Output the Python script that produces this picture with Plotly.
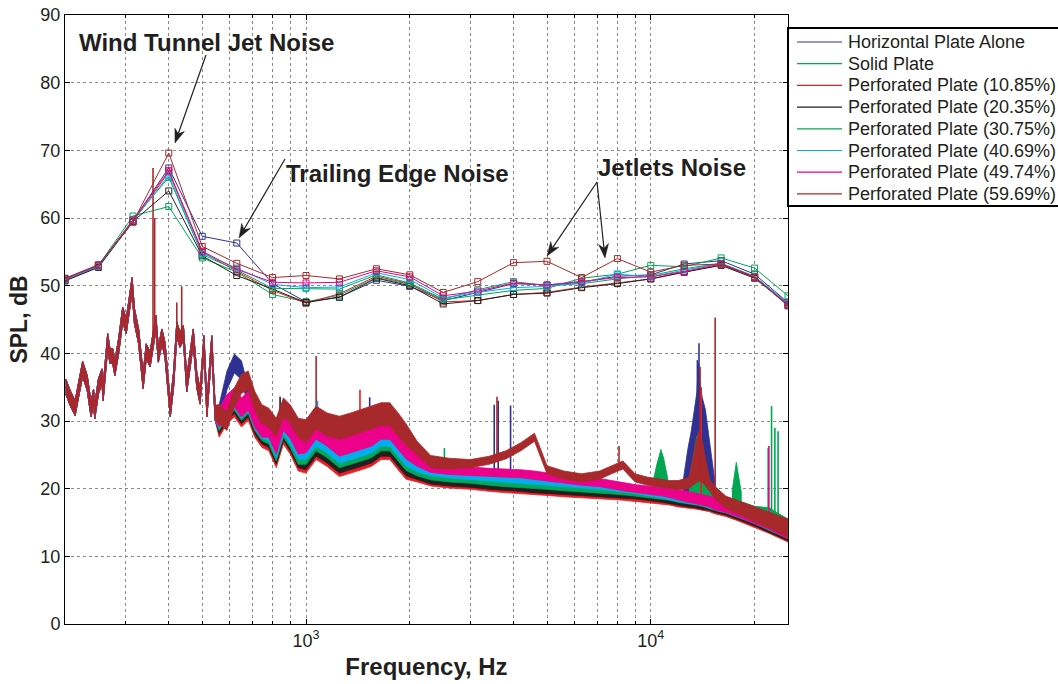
import numpy as np
import plotly.graph_objects as go

# ---------------------------------------------------------------------------
# 1/3-octave band levels (SPL, dB) for each configuration
# ---------------------------------------------------------------------------
band_freq = [200, 250, 315, 400, 500, 630, 800, 1000, 1250, 1600, 2000, 2500,
             3150, 4000, 5000, 6300, 8000, 10000, 12500, 16000, 20000, 25000]

band_horizontal = [50.8, 52.8, 59.6, 67.4, 57.3, 56.3, 50.3, 47.6, 48.3, 50.8, 49.9, 47.8,
                   49.0, 50.3, 50.1, 50.5, 51.4, 51.6, 53.2, 53.7, 51.7, 47.5]
band_solid = [51.0, 53.0, 60.3, 61.7, 54.1, 52.0, 48.7, 47.6, 48.6, 51.2, 50.2, 47.9,
              48.6, 49.3, 49.6, 51.1, 51.7, 53.0, 52.8, 54.1, 52.6, 48.5]
band_p1085 = [51.0, 53.0, 59.4, 66.8, 55.0, 52.1, 49.3, 47.4, 48.8, 51.4, 50.3, 47.6,
              47.8, 48.7, 49.0, 49.8, 50.4, 51.0, 52.0, 53.1, 51.2, 47.1]
band_p2035 = [50.7, 52.7, 59.5, 64.0, 54.4, 51.5, 49.5, 47.5, 48.3, 51.1, 50.0, 47.3,
              47.8, 48.7, 48.9, 49.7, 50.3, 51.0, 52.0, 53.0, 51.1, 47.2]
band_p3075 = [50.9, 52.9, 59.8, 66.0, 54.6, 52.3, 49.6, 49.6, 49.5, 51.6, 50.4, 48.0,
              49.4, 50.6, 50.0, 50.3, 51.0, 51.5, 52.5, 53.3, 51.4, 47.3]
band_p4069 = [50.9, 52.9, 59.6, 66.3, 54.8, 52.6, 50.2, 49.7, 49.8, 51.9, 50.9, 48.2,
              49.0, 49.7, 49.9, 50.4, 51.7, 51.3, 52.3, 53.3, 51.3, 47.4]
band_p4974 = [51.0, 53.0, 59.7, 67.0, 55.1, 52.4, 50.5, 50.4, 50.5, 52.2, 51.3, 48.5,
              49.2, 50.4, 50.1, 50.6, 51.2, 51.3, 52.1, 53.2, 51.2, 47.2]
band_p5969 = [51.1, 53.1, 59.4, 69.6, 55.8, 53.3, 51.2, 51.5, 51.0, 52.5, 51.6, 49.0,
              50.6, 53.4, 53.6, 51.2, 54.0, 52.0, 53.0, 53.2, 51.3, 47.0]

# ---------------------------------------------------------------------------
# Narrowband spectra
# Below ~550 Hz all configurations share the same jet-noise spectrum.
# ---------------------------------------------------------------------------
nb_freq_low = [201, 207, 214, 218, 225, 232, 238, 242, 244, 250, 256, 258, 266, 270,
               275, 279, 286, 294, 301, 306, 313, 318, 327, 337, 344, 353, 367, 373,
               382, 390, 399, 404, 413, 422, 431, 441, 451, 463, 471, 482, 493, 506,
               516, 533, 545]
nb_spl_low = [35.1, 33.4, 31.9, 34.1, 37.7, 35.6, 31.7, 33.6, 31.4, 35.1, 36.6, 34.1, 41.8, 39.6,
              39.6, 37.8, 41.0, 45.7, 44.0, 46.5, 50.1, 45.5, 42.5, 35.9, 40.3, 39.1, 44.5, 39.8,
              42.5, 40.5, 35.1, 31.7, 36.1, 43.5, 42.0, 43.0, 35.4, 39.6, 42.5, 36.1, 33.6, 41.5,
              31.7, 41.5, 31.2]
nb_spread_low = 1.1

nb_freq = [560, 590, 620, 650, 680, 710, 745, 780, 820, 860, 900, 950,
           1000, 1070, 1150, 1250, 1350, 1450, 1550, 1650, 1750, 1850, 1950,
           2100, 2300, 2600, 3000, 3400, 3800, 4200, 4600, 5000, 5600, 6300, 7100, 7700,
           8300, 9000, 9800, 10400, 10800, 11300, 12000,
           12800, 13400, 13800, 14300, 14800, 15300, 16500, 18000, 20000, 22000, 25000]
# half-width of the narrowband scatter band (dB)
nb_spread = [1.4, 1.4, 1.4, 1.4, 1.4, 1.4, 1.4, 1.4, 1.4, 1.4, 1.4, 1.4,
             1.7, 1.7, 1.7, 1.7, 1.7, 1.7, 1.7, 1.7, 1.7, 1.7, 1.6,
             1.0, 0.9, 0.8, 0.6, 0.6, 0.6, 0.6, 0.6, 0.6, 0.6, 0.6, 0.6, 0.6,
             0.6, 0.6, 0.6, 0.6, 0.6, 0.6, 0.7,
             0.8, 0.8, 0.8, 0.8, 0.8, 0.9, 0.9, 1.0, 1.1, 1.2, 1.3]

nb_horizontal = [31.0, 36.0, 38.5, 37.5, 33.5, 30.5, 28.5, 27.8, 25.5, 28.8, 27.5, 25.0,
                 25.0, 27.0, 26.0, 25.0, 25.5, 26.0, 26.5, 27.0, 27.0, 25.5, 24.0,
                 22.5, 21.8, 21.4, 21.0, 20.7, 20.5, 20.4, 20.2, 20.1, 19.9, 19.7, 19.6, 19.5,
                 19.4, 19.3, 19.2, 19.1, 19.0, 19.0, 18.8,
                 18.5, 18.4, 18.3, 18.1, 18.0, 17.7, 17.2, 16.6, 15.8, 15.0, 13.8]
nb_solid = [29.8, 31.8, 32.8, 31.3, 32.3, 29.8, 28.3, 27.8, 25.3, 28.8, 27.3, 24.8,
            24.8, 26.8, 25.8, 24.3, 24.8, 25.3, 25.8, 26.8, 26.8, 25.3, 23.8,
            22.6, 21.9, 21.5, 21.1, 20.8, 20.6, 20.5, 20.3, 20.2, 20.0, 19.8, 19.7, 19.6,
            19.5, 19.5, 19.6, 19.5, 19.3, 19.2, 19.0,
            18.7, 18.6, 18.5, 18.3, 18.2, 18.0, 17.6, 17.2, 16.3, 16.0, 14.2]
nb_p1085 = [29.0, 31.0, 32.0, 30.5, 31.5, 29.0, 27.5, 27.0, 24.5, 28.0, 26.5, 24.0,
            24.0, 26.0, 25.0, 23.5, 24.0, 24.5, 25.0, 26.0, 26.0, 24.5, 23.0,
            22.0, 21.3, 20.9, 20.5, 20.2, 20.0, 19.9, 19.7, 19.6, 19.4, 19.2, 19.1, 19.0,
            18.9, 18.8, 18.6, 18.4, 18.3, 18.2, 18.0,
            17.9, 17.8, 17.7, 17.5, 17.4, 17.2, 16.8, 16.2, 15.4, 14.6, 13.4]
nb_p2035 = [29.5, 31.5, 32.5, 31.0, 32.0, 29.5, 28.0, 27.5, 25.0, 28.5, 27.0, 24.5,
            24.5, 26.5, 25.5, 24.0, 24.5, 25.0, 25.5, 26.5, 26.5, 25.0, 23.5,
            22.3, 21.6, 21.2, 20.8, 20.5, 20.3, 20.2, 20.0, 19.9, 19.7, 19.5, 19.4, 19.3,
            19.2, 19.1, 18.9, 18.7, 18.6, 18.5, 18.3,
            18.1, 18.0, 17.9, 17.7, 17.6, 17.4, 17.0, 16.4, 15.6, 14.8, 13.6]
nb_p3075 = [30.0, 32.0, 33.0, 31.5, 32.5, 30.0, 28.5, 28.0, 25.5, 29.0, 27.5, 25.0,
            25.3, 27.3, 26.3, 24.8, 25.3, 25.8, 26.3, 27.3, 27.3, 25.8, 24.3,
            22.9, 22.2, 21.8, 21.4, 21.1, 20.9, 20.8, 20.6, 20.5, 20.3, 20.1, 20.0, 19.8,
            19.7, 19.5, 19.3, 19.1, 19.0, 18.9, 18.7,
            18.5, 18.4, 18.3, 18.1, 17.9, 17.7, 17.3, 16.7, 15.9, 15.1, 13.9]
nb_p4069 = [30.3, 32.3, 33.3, 31.8, 32.8, 30.3, 28.8, 28.5, 26.0, 29.5, 28.0, 25.8,
            26.0, 28.0, 27.0, 25.5, 26.0, 26.5, 27.0, 28.0, 28.0, 26.5, 25.0,
            23.5, 22.8, 22.4, 22.0, 21.7, 21.5, 21.4, 21.2, 21.1, 20.9, 20.7, 20.5, 20.3,
            20.1, 19.9, 19.6, 19.3, 19.2, 19.0, 18.8,
            18.6, 18.5, 18.4, 18.2, 18.0, 17.8, 17.4, 16.8, 16.0, 15.2, 14.0]
nb_p4974 = [30.5, 32.5, 33.5, 32.0, 33.0, 30.5, 29.0, 29.0, 26.5, 30.0, 28.8, 26.5,
            27.0, 29.0, 28.0, 26.5, 27.0, 27.5, 28.0, 29.0, 29.0, 27.5, 26.0,
            24.3, 23.3, 22.9, 22.6, 22.4, 22.3, 22.2, 22.0, 21.7, 21.4, 21.1, 20.9, 20.6,
            20.3, 20.0, 19.8, 19.6, 19.5, 19.3, 19.1,
            18.8, 18.6, 18.5, 18.3, 18.1, 17.8, 17.4, 16.8, 16.0, 15.2, 13.9]
nb_p5969 = [31.0, 30.0, 33.5, 35.5, 36.0, 33.0, 31.0, 30.5, 29.0, 32.0, 31.0, 29.0,
            28.5, 30.5, 29.5, 29.0, 29.5, 30.0, 30.5, 31.0, 31.0, 29.5, 28.0,
            26.0, 24.0, 23.7, 23.7, 24.2, 25.0, 26.2, 27.6, 22.8, 22.0, 21.6, 22.0, 22.8,
            23.5, 21.6, 21.1, 20.9, 20.8, 20.6, 20.5,
            20.8, 21.5, 22.0, 21.5, 20.5, 19.5, 18.0, 17.2, 16.3, 15.4, 14.2]

# Broad tonal humps: (frequency Hz, peak envelope dB)
hump_horizontal = [[(12400, 21.0), (12800, 25.8), (13100, 28.5), (13400, 31.7), (13600, 34.2),
                    (13750, 38.5), (13850, 36.0), (14100, 33.5), (14400, 31.7), (14700, 28.2),
                    (15000, 25.0), (15300, 21.5)]]
hump_solid = [[(10100, 20.5), (10400, 23.5), (10700, 25.8), (10900, 24.5), (11200, 21.5)],
              [(12900, 21.0), (13300, 25.0), (13600, 27.8), (13900, 26.5), (14200, 25.5),
               (14600, 22.0), (15000, 20.0)],
              [(17200, 19.5), (17700, 23.9), (18300, 19.5)]]
hump_p5969 = [[(12900, 21.5), (13300, 25.0), (13600, 27.5), (13800, 28.5), (14100, 27.0),
               (14400, 24.5), (14800, 21.5)]]

# Narrow tones: (frequency Hz, peak dB)
tones_horizontal = [(1530, 33.5), (3515, 32.4), (3610, 33.0), (3920, 32.3), (13800, 41.5),
                    (13650, 39.0)]
tones_solid = [(2520, 26.0), (21900, 26.0), (22400, 32.2), (22900, 29.0), (23400, 28.5)]
tones_p1085 = [(1434, 34.6), (14000, 35.0)]
tones_p2035 = [(841, 33.6)]
tones_p3075 = []
tones_p4069 = [(1080, 33.0)]
tones_p4974 = [(22000, 26.3)]
tones_p5969 = [(360, 67.4), (364, 60.0), (422, 47.5), (436, 49.9), (1070, 39.6), (3580, 33.6),
               (8090, 26.3), (13900, 38.0), (15370, 45.3)]

names = ["Horizontal Plate Alone", "Solid Plate", "Perforated Plate (10.85%)",
         "Perforated Plate (20.35%)", "Perforated Plate (30.75%)", "Perforated Plate (40.69%)",
         "Perforated Plate (49.74%)", "Perforated Plate (59.69%)"]
colors = ["#2E3192", "#00A651", "#ED1C24", "#231F20", "#00A859", "#00AEEF", "#EC008C", "#A8292B"]

band_sets = [band_horizontal, band_solid, band_p1085, band_p2035, band_p3075, band_p4069,
             band_p4974, band_p5969]
nb_sets = [nb_horizontal, nb_solid, nb_p1085, nb_p2035, nb_p3075, nb_p4069, nb_p4974, nb_p5969]
tone_sets = [tones_horizontal, tones_solid, tones_p1085, tones_p2035, tones_p3075, tones_p4069,
             tones_p4974, tones_p5969]
hump_sets = [hump_horizontal, hump_solid, [], [], [], [], [], hump_p5969]

fig = go.Figure()

for name, col, nb, tones, humps in zip(names, colors, nb_sets, tone_sets, hump_sets):
    f = np.array(nb_freq_low + nb_freq, dtype=float)
    centre = np.array(nb_spl_low + nb, dtype=float)
    spread = np.concatenate([np.full(len(nb_freq_low), nb_spread_low), np.array(nb_spread)])
    upper = centre + spread
    lower = centre - spread
    # scatter band of the narrowband spectrum
    fig.add_trace(go.Scatter(
        x=np.concatenate([f, f[::-1]]), y=np.concatenate([upper, lower[::-1]]),
        mode="lines", fill="toself", fillcolor=col, line=dict(color=col, width=0.8),
        hoverinfo="skip", showlegend=False))
    logf = np.log10(f)
    # broad humps, filled down to the local spectrum level
    for hump in humps:
        hf = np.array([p[0] for p in hump], dtype=float)
        ht = np.array([p[1] for p in hump], dtype=float)
        base = np.interp(np.log10(hf), logf, lower)
        fig.add_trace(go.Scatter(
            x=np.concatenate([hf, hf[::-1]]), y=np.concatenate([ht, base[::-1]]),
            mode="lines", fill="toself", fillcolor=col, line=dict(color=col, width=0.8),
            hoverinfo="skip", showlegend=False))
    # narrow tones
    if tones:
        xs, ys = [], []
        for tf, tp in tones:
            b = float(np.interp(np.log10(tf), logf, centre))
            xs += [tf, tf, None]
            ys += [b, tp, None]
        fig.add_trace(go.Scatter(x=xs, y=ys, mode="lines", line=dict(color=col, width=1.6),
                                 hoverinfo="skip", showlegend=False))

# 1/3-octave band spectra with open square markers
for name, col, band in zip(names, colors, band_sets):
    fig.add_trace(go.Scatter(
        x=band_freq, y=band, mode="lines+markers", name=name,
        line=dict(color=col, width=1),
        marker=dict(symbol="square-open", size=6, color=col, line=dict(width=1, color=col)),
        showlegend=False))

font_family = "Liberation Sans, Arial, Helvetica, sans-serif"
text_col = "#231F20"

# plot area in pixels (used to place the boxed legend, labels and arrows in paper units)
PLOT_L, PLOT_R, PLOT_T, PLOT_B = 65, 788, 15, 624


def px_x(px):
    return (px - PLOT_L) / (PLOT_R - PLOT_L)


def px_y(py):
    return 1 - (py - PLOT_T) / (PLOT_B - PLOT_T)


grid_minor = [300, 400, 500, 600, 700, 800, 900, 2000, 3000, 4000, 5000, 6000,
              7000, 8000, 9000, 20000]

fig.update_layout(
    width=1058, height=684,
    margin=dict(l=PLOT_L, r=1058 - PLOT_R, t=PLOT_T, b=684 - PLOT_B, autoexpand=False),
    paper_bgcolor="white", plot_bgcolor="white",
    font=dict(family=font_family, size=18, color=text_col),
    showlegend=False,
)

fig.update_xaxes(
    type="log", range=[np.log10(200), np.log10(25000)],
    tickvals=[1000, 10000], ticktext=["10<sup>3</sup>", "10<sup>4</sup>"],
    ticks="inside", ticklen=5, tickcolor="black",
    showgrid=True, gridcolor="#8a8a8a", griddash="dot", gridwidth=1,
    minor=dict(tickvals=grid_minor, ticks="inside", ticklen=3, tickcolor="black",
               showgrid=True, gridcolor="#8a8a8a", griddash="dot", gridwidth=1),
    showline=True, linecolor="black", linewidth=1, mirror="ticks",
    zeroline=False,
    tickfont=dict(family=font_family, size=18, color=text_col),
    title=dict(text="<b>Frequency, Hz</b>", standoff=8,
               font=dict(family=font_family, size=24, color=text_col)),
)
fig.update_yaxes(
    range=[0, 90], tick0=0, dtick=10,
    ticks="inside", ticklen=5, tickcolor="black",
    showgrid=True, gridcolor="#8a8a8a", griddash="dot", gridwidth=1,
    showline=True, linecolor="black", linewidth=1, mirror="ticks",
    zeroline=False,
    tickfont=dict(family=font_family, size=18, color=text_col),
    title=dict(text="<b>SPL, dB</b>", standoff=6,
               font=dict(family=font_family, size=23, color=text_col)),
)

# boxed legend to the right of the axes
LEG_TOP, LEG_BOT, LEG_ROW0, LEG_ROW_STEP = 28, 206, 42, 21.7
fig.add_shape(type="rect", xref="paper", yref="paper",
              x0=px_x(788), x1=px_x(1080), y0=px_y(LEG_BOT), y1=px_y(LEG_TOP),
              line=dict(color="black", width=2), fillcolor="white", layer="above")
for i, (name, col) in enumerate(zip(names, colors)):
    yy = px_y(LEG_ROW0 + i * LEG_ROW_STEP)
    fig.add_shape(type="line", xref="paper", yref="paper",
                  x0=px_x(797), x1=px_x(842), y0=yy, y1=yy,
                  line=dict(color=col, width=1.2), layer="above")
    fig.add_annotation(xref="paper", yref="paper", x=px_x(846), y=yy, text=name,
                       showarrow=False, xanchor="left", yanchor="middle",
                       font=dict(family=font_family, size=18, color=text_col))

label_font = dict(family=font_family, size=24, color="#231F20")
labels = [
    ("<b>Wind Tunnel Jet Noise</b>", 206.5, 42),
    ("<b>Trailing Edge Noise</b>", 397.5, 173),
    ("<b>Jetlets Noise</b>", 671.5, 167),
]
for txt, lx, ly in labels:
    fig.add_annotation(xref="paper", yref="paper", x=px_x(lx), y=px_y(ly), text=txt,
                       showarrow=False, font=label_font, xanchor="center", yanchor="middle")

# pointer arrows (tail -> tip, pixel positions on the page) with barbed heads
pointer_arrows = [
    ((206, 55), (175, 143)),
    ((285, 159), (239, 238)),
    ((597, 182), (547, 256)),
    ((597, 182), (605, 258)),
]
HEAD_LEN, HEAD_HALF = 14.0, 5.0
for (tx, ty), (hx, hy) in pointer_arrows:
    d = np.array([hx - tx, hy - ty], dtype=float)
    d /= np.hypot(*d)
    n = np.array([-d[1], d[0]])
    tip = np.array([hx, hy], dtype=float)
    back = tip - d * HEAD_LEN
    notch = tip - d * HEAD_LEN * 0.7
    left = back + n * HEAD_HALF
    right = back - n * HEAD_HALF
    fig.add_shape(type="line", xref="paper", yref="paper",
                  x0=px_x(tx), y0=px_y(ty), x1=px_x(notch[0]), y1=px_y(notch[1]),
                  line=dict(color=text_col, width=1.2), layer="above")
    pts = [tip, left, notch, right]
    path = "M " + " L ".join(f"{px_x(p[0]):.5f},{px_y(p[1]):.5f}" for p in pts) + " Z"
    fig.add_shape(type="path", xref="paper", yref="paper", path=path,
                  fillcolor=text_col, line=dict(color=text_col, width=0.5), layer="above")

fig.write_html("out.html")
